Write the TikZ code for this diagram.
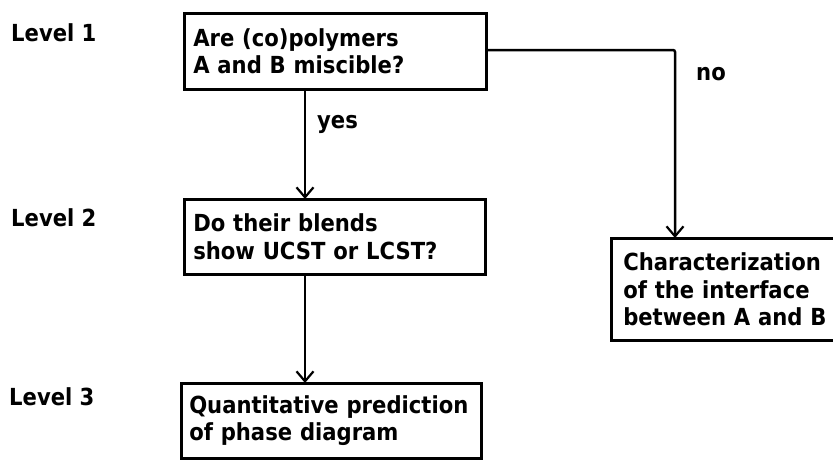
\documentclass[tikz,border=0pt]{standalone}
\usepackage{fontspec}
\setmainfont{DejaVu Sans Condensed}
\usetikzlibrary{arrows.meta}
\begin{document}
\begin{tikzpicture}[x=1pt,y=-1pt,
  every node/.style={font=\fontsize{23.5}{27.5}\selectfont\bfseries},
  qbox/.style={draw,line width=2.5pt,rectangle,align=left,anchor=north west,
    inner ysep=0pt},
  conn/.style={line width=2.5pt,-{Straight Barb[length=10pt,width=17pt,line width=2.2pt]}},
  lbl/.style={inner sep=0pt}]
\useasboundingbox (0,0) rectangle (833,459);
\clip (0,0) rectangle (833,459);
% level labels
\node[lbl,anchor=west] (l1) at (11,33) {Level 1};
\node[lbl,anchor=west] (l2) at (11,218) {Level 2};
\node[lbl,anchor=west] (l3) at (9,397) {Level 3};
% boxes
\node[qbox,inner xsep=9pt,text width=284pt,minimum height=76pt] (b1) at (183,12)
  {Are (co)polymers\\A and B miscible?};
\node[qbox,inner xsep=9pt,text width=283pt,minimum height=75pt] (b2) at (183,198)
  {Do their blends\\show UCST or LCST?};
\node[qbox,inner xsep=12pt,text width=216pt,minimum height=102pt] (b3) at (610,237)
  {Characterization\\of the interface\\between A and B};
\node[qbox,inner xsep=8pt,text width=284pt,minimum height=75pt] (b4) at (180,382)
  {\mbox{Quantitative prediction}\\of phase diagram};
% connectors
\coordinate (ax) at (305,0);
\coordinate (cn) at (675,50);
\draw[conn,shorten >=-1pt] (b1.south -| ax) -- (b2.north -| ax);
\draw[conn,shorten >=-1pt] (b2.south -| ax) -- (b4.north -| ax);
\draw[conn,shorten >=-1pt,rounded corners=2pt] (b1.east |- cn) -- (cn) -- (b3.north -| cn);
% edge labels
\node[lbl,anchor=west] (yes) at (317,124) {yes};
\node[lbl,anchor=west] (no) at (696,74) {no};
\end{tikzpicture}
\end{document}
